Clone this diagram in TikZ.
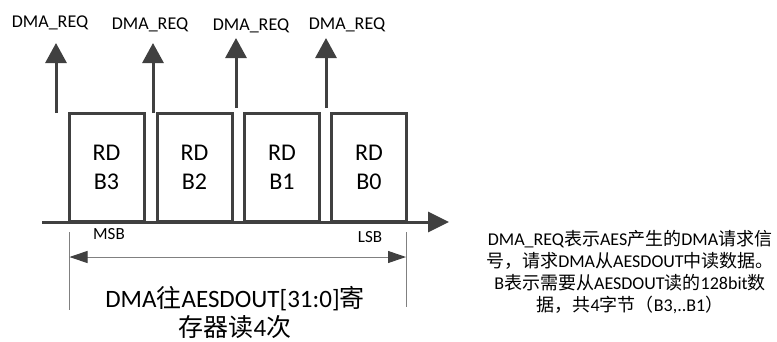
\documentclass[tikz,border=0pt]{standalone}
\usepackage{fontspec}
\setmainfont{Carlito}
\newfontfamily\cjk{Noto Sans CJK SC}
\newcommand{\zh}[1]{{\cjk #1}}
\usetikzlibrary{arrows.meta}
\definecolor{dk}{HTML}{404040}
\definecolor{lt}{HTML}{808080}
\begin{document}
\begin{tikzpicture}[x=1pt,y=-1pt,
  thick line/.style={draw=dk,line width=3pt},
  req/.style={thick line,-{Triangle[length=20pt,width=21pt]}},
  rdbox/.style={thick line,minimum width=75pt,minimum height=108pt,inner sep=0pt,align=center,font=\fontsize{24}{29}\selectfont},
  reqlabel/.style={inner sep=0pt,font=\fontsize{18}{22}\selectfont},
  guide/.style={draw=lt,line width=1pt},
  dim/.style={guide,{Triangle[length=18pt,width=12pt,fill=dk,color=dk]}-{Triangle[length=18pt,width=12pt,fill=dk,color=dk]}},
  small/.style={inner sep=0pt,font=\fontsize{17}{20}\selectfont},
  bigtext/.style={inner sep=0pt,anchor=base,font=\fontsize{25}{30}\selectfont}
]
\useasboundingbox (0,0) rectangle (777,341);
% boxes
\node[rdbox] (b3) at (106.5,167) {RD\\B3};
\node[rdbox] (b2) at (194.5,167) {RD\\B2};
\node[rdbox] (b1) at (282,167) {RD\\B1};
\node[rdbox] (b0) at (369,167) {RD\\B0};
% axis
\coordinate (ax0) at (42,222);
\coordinate (ax1) at (449,222);
\draw[thick line,-{Triangle[length=21pt,width=20pt]}] (ax0) -- (ax1);
% request arrows
\coordinate (r1s) at (56,113);   \coordinate (r1e) at (56,43);
\coordinate (r2s) at (153,113);  \coordinate (r2e) at (153,43);
\coordinate (r3s) at (236,108);  \coordinate (r3e) at (236,38);
\coordinate (r4s) at (326,108);  \coordinate (r4e) at (326,38);
\draw[req] (r1s) -- (r1e);
\draw[req] (r2s) -- (r2e);
\draw[req] (r3s) -- (r3e);
\draw[req] (r4s) -- (r4e);
\node[reqlabel] (l1) at (50,23) {DMA\_REQ};
\node[reqlabel] (l2) at (150,25) {DMA\_REQ};
\node[reqlabel] (l3) at (251,26) {DMA\_REQ};
\node[reqlabel] (l4) at (347,25) {DMA\_REQ};
% MSB / LSB
\node[small] (msb) at (109,234) {MSB};
\node[small] (lsb) at (370,237) {LSB};
% guides
\coordinate (g1t) at (69.5,232); \coordinate (g1b) at (69.5,310);
\coordinate (g2t) at (406,232); \coordinate (g2b) at (406,307);
\draw[guide] (g1t) -- (g1b);
\draw[guide] (g2t) -- (g2b);
\coordinate (d1) at (69.5,257); \coordinate (d2) at (406,257);
\draw[dim] (d1) -- (d2);
% bottom text
\node[bigtext] (desc1) at (235,307) {DMA\zh{往}AESDOUT[31:0]\zh{寄}};
\node[bigtext] (desc2) at (235,336) {\zh{存器读}4\zh{次}};
% right note
\node[inner sep=0pt,align=center,font=\fontsize{18}{21.7}\selectfont] (note) at (630,272)
  {DMA\_REQ\zh{表示}AES\zh{产生的}DMA\zh{请求信}\\
   \zh{号，请求}DMA\zh{从}AESDOUT\zh{中读数据。}\\
   B\zh{表示需要从}AESDOUT\zh{读的}128bit\zh{数}\\
   \zh{据，共}4\zh{字节（}B3,..B1\zh{）}};
\end{tikzpicture}
\end{document}
